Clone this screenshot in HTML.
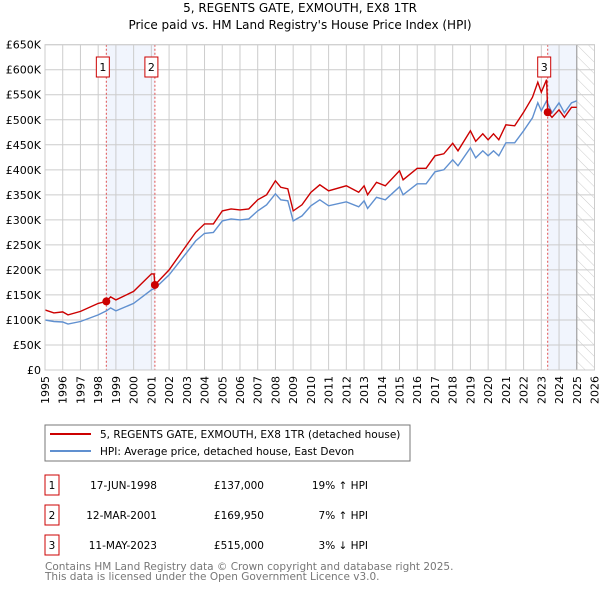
<!DOCTYPE html>
<html><head><meta charset="utf-8"><style>
body{margin:0;background:#fff;font-family:"DejaVu Sans","Liberation Sans",sans-serif;}
svg text{font-family:"DejaVu Sans","Liberation Sans",sans-serif;}
</style></head><body>
<svg id="chart" width="600" height="590" xmlns="http://www.w3.org/2000/svg">
<defs><pattern id="hatch" width="8" height="8" patternUnits="userSpaceOnUse" patternTransform="rotate(-45)"><line x1="0" y1="0" x2="0" y2="8" stroke="#ccc" stroke-width="1"/></pattern></defs>
<text x="300" y="12" font-size="12" text-anchor="middle">5, REGENTS GATE, EXMOUTH, EX8 1TR</text>
<text x="300" y="29" font-size="12" text-anchor="middle">Price paid vs. HM Land Registry's House Price Index (HPI)</text>
<g id="grid"></g><g id="marks"></g>
<rect x="45" y="425" width="365" height="36" fill="#fff" stroke="#777"/>
<line x1="50" y1="434" x2="91" y2="434" stroke="#cc0000" stroke-width="2"/>
<text x="100" y="438" font-size="10.5">5, REGENTS GATE, EXMOUTH, EX8 1TR (detached house)</text>
<line x1="50" y1="451" x2="91" y2="451" stroke="#6090d0" stroke-width="2"/>
<text x="100" y="455" font-size="10.5">HPI: Average price, detached house, East Devon</text>
<g font-size="10.5">
<rect x="45" y="475" width="14" height="20" fill="none" stroke="#cc0000"/><text x="52" y="489" text-anchor="middle">1</text>
<text x="157" y="489" text-anchor="end">17-JUN-1998</text><text x="264" y="489" text-anchor="end">£137,000</text><text x="368" y="489" text-anchor="end">19% ↑ HPI</text>
<rect x="45" y="505" width="14" height="20" fill="none" stroke="#cc0000"/><text x="52" y="519" text-anchor="middle">2</text>
<text x="157" y="519" text-anchor="end">12-MAR-2001</text><text x="264" y="519" text-anchor="end">£169,950</text><text x="368" y="519" text-anchor="end">7% ↑ HPI</text>
<rect x="45" y="535" width="14" height="20" fill="none" stroke="#cc0000"/><text x="52" y="549" text-anchor="middle">3</text>
<text x="157" y="549" text-anchor="end">11-MAY-2023</text><text x="264" y="549" text-anchor="end">£515,000</text><text x="368" y="549" text-anchor="end">3% ↓ HPI</text>
</g>
<text x="45" y="570" font-size="10.5" fill="#777">Contains HM Land Registry data © Crown copyright and database right 2025.</text>
<text x="45" y="580" font-size="10.5" fill="#777">This data is licensed under the Open Government Licence v3.0.</text>
</svg>
<script>
const yTicks=[0,50,100,150,200,250,300,350,400,450,500,550,600,650];
const yLabels=["£0","£50K","£100K","£150K","£200K","£250K","£300K","£350K","£400K","£450K","£500K","£550K","£600K","£650K"];
const years=[1995,1996,1997,1998,1999,2000,2001,2002,2003,2004,2005,2006,2007,2008,2009,2010,2011,2012,2013,2014,2015,2016,2017,2018,2019,2020,2021,2022,2023,2024,2025,2026];
const hpiT=[1995,1995.5,1996,1996.3,1997,1998,1998.46,1998.7,1999,2000,2001,2001.2,2002,2003,2003.5,2004,2004.5,2005,2005.5,2006,2006.5,2007,2007.5,2008,2008.3,2008.7,2009,2009.5,2010,2010.5,2011,2012,2012.7,2013,2013.2,2013.7,2014.2,2015,2015.2,2016,2016.5,2017,2017.5,2018,2018.3,2019,2019.3,2019.7,2020,2020.3,2020.6,2021,2021.5,2022,2022.5,2022.8,2023,2023.3,2023.6,2024,2024.3,2024.7,2025];
const hpiV=[100,97,96,92,97,110,118,124,118,133,160,163,190,235,258,273,275,298,302,300,302,318,330,352,340,338,298,308,328,340,328,336,326,338,323,345,340,366,350,372,372,396,400,420,408,444,424,438,428,438,428,454,454,478,504,534,518,538,514,534,514,534,538];
const propT=[1995,1995.5,1996,1996.3,1997,1998,1998.46,1998.7,1999,2000,2001,2001.15,2001.2,2002,2003,2003.5,2004,2004.5,2005,2005.5,2006,2006.5,2007,2007.5,2008,2008.3,2008.7,2009,2009.5,2010,2010.5,2011,2012,2012.7,2013,2013.2,2013.7,2014.2,2015,2015.2,2016,2016.5,2017,2017.5,2018,2018.3,2019,2019.3,2019.7,2020,2020.3,2020.6,2021,2021.5,2022,2022.5,2022.8,2023,2023.3,2023.36,2023.6,2024,2024.3,2024.7,2025];
const propV=[120,114,116,110,117,133,137,146,140,157,192,192,170,200,250,275,292,292,318,322,320,322,340,350,378,365,362,318,330,355,370,358,368,355,368,350,375,368,398,380,403,403,428,432,453,438,478,457,472,460,472,460,490,488,515,545,575,555,580,515,505,520,505,525,525];
const saleT=[1998.46,2001.2,2023.36];
const saleV=[137,169.95,515];
const L=45,R=594.5,T=44.7,B=370;
const X=t=>L+(t-1995)/(2026-1995)*(R-L);
const Y=v=>B-v/650*(B-T);
const NS="http://www.w3.org/2000/svg";
function mk(tag,attrs,parent){const e=document.createElementNS(NS,tag);for(const k in attrs)e.setAttribute(k,attrs[k]);parent.appendChild(e);return e;}
const g=document.getElementById('grid'),m=document.getElementById('marks');
let e;
e=mk('rect',{x:X(saleT[0]),y:T,width:X(saleT[1])-X(saleT[0]),height:B-T,fill:'#eef3fc',opacity:0.8},g);


e=mk('rect',{x:X(saleT[2]),y:T,width:X(2025)-X(saleT[2]),height:B-T,fill:'#eef3fc',opacity:0.8},g);


e=mk('rect',{x:X(2025),y:T,width:R-X(2025),height:B-T,fill:'url(#hatch)'},g);


yTicks.forEach((v,i)=>{
 mk('line',{x1:L,x2:R,y1:Y(v),y2:Y(v),stroke:'#ccc','stroke-width':1},g);
 e=mk('text',{x:L-4,y:Y(v)+4,'font-size':11,'text-anchor':'end'},g);e.textContent=yLabels[i];
 
 
});
years.forEach(yr=>{
 mk('line',{x1:X(yr),x2:X(yr),y1:T,y2:B,stroke:'#ccc','stroke-width':1},g);
 e=mk('text',{x:0,y:0,'font-size':11,'text-anchor':'end',transform:`translate(${X(yr)+4},${B+6}) rotate(-90)`},g);e.textContent=yr;
 
 
});
mk('line',{x1:X(2025),x2:X(2025),y1:T,y2:B,stroke:'#999','stroke-width':1},g);
saleT.forEach((t,i)=>{
 e=mk('line',{x1:X(t),x2:X(t),y1:T,y2:B,stroke:'#e05050','stroke-width':1,'stroke-dasharray':'2,2'},m);
 
 
});
const pts=(ts,vs)=>ts.map((t,i)=>X(t).toFixed(1)+','+Y(vs[i]).toFixed(1)).join(' ');
e=mk('polyline',{points:pts(hpiT,hpiV),fill:'none',stroke:'#6090d0','stroke-width':1.4},m);


e=mk('polyline',{points:pts(propT,propV),fill:'none',stroke:'#cc0000','stroke-width':1.4},m);


saleT.forEach((t,i)=>{
 e=mk('circle',{cx:X(t),cy:Y(saleV[i]),r:4,fill:'#cc0000'},m);
 
 
 const bx=X(t)-10;
 e=mk('rect',{x:bx,y:57,width:13,height:20,fill:'#fff',stroke:'#cc0000'},m);
 
 
 e=mk('text',{x:bx+6.5,y:71,'font-size':11,'text-anchor':'middle'},m);e.textContent=String(i+1);
 
 
});
mk('rect',{x:L,y:T,width:R-L,height:B-T,fill:'none',stroke:'#ccc'},m);
</script>
</body></html>
